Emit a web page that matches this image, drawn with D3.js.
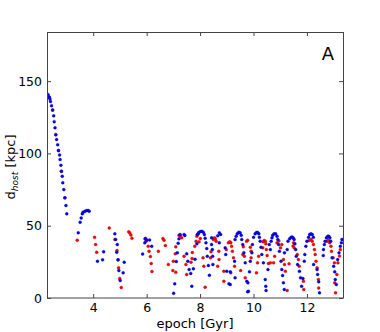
<!DOCTYPE html>
<html>
<head>
<meta charset="utf-8">
<script src="https://cdn.jsdelivr.net/npm/d3@7"></script>
<style>
  body { margin: 0; background: #fff; }
  svg text { font-family: "DejaVu Sans", sans-serif; fill: #000; }
</style>
</head>
<body>
<div id="chart"></div>
<script>
// [epoch (Gyr), distance to host (kpc)]
var redPoints = [
  [2.35,139],[2.48,130],[2.60,113],[2.70,102],[2.81,87.7],[2.94,69.3],
  [3.40,40],[4.05,42],[4.09,37],[4.13,31.6],[4.60,48.5],
  [4.81,40.5],[4.89,32.8],[4.93,26.4],[4.95,20.9],[4.99,13.5],[5.05,7.3],
  [5.33,45.8],[5.37,44.9],[5.41,43.6],[5.45,41.3],
  [5.96,41.3],[5.98,39.3],[6.06,35.8],[6.09,32.4],[6.14,28.7],[6.17,23.9],[6.20,18.3],
  [6.44,32.4],[6.61,41.1],[6.65,40],[6.70,36.3],[6.81,23.2],[6.98,19.1],[7.0,25.5],[7.07,30.6],[7.09,35.4],[7.09,17.8],
  [7.21,43.4],[7.26,43],[7.31,41.6],[7.40,28.9],[7.47,23.2],[7.50,16.3],[7.66,24.8],[7.70,27.3],[7.71,31.5],[7.80,35.8],
  [7.85,39.3],[7.88,42.7],[7.90,43.9],[7.94,44.4],[7.96,38.9],[8.01,41.1],[8.11,27.8],[8.14,22],[8.19,7.5],
  [8.39,27.8],[8.41,32],[8.50,40.5],[8.54,41.6],[8.57,41],[8.60,39.3],[8.66,22],[8.70,32.4],[8.71,26.6],[8.89,18.5],[8.89,11.6],
  [8.98,33.5],[9.06,38.2],[9.11,38.9],[9.15,38.2],[9.18,35.8],[9.21,32.4],[9.25,27.8],[9.29,22],[9.15,17.4],
  [9.52,19],[9.60,30.1],[9.62,35.4],[9.66,28.9],[9.69,14],[9.74,39.3],[9.78,40],[9.88,35.1],[9.91,32.4],[9.91,27.8],
  [10.11,17.4],[10.15,24.3],[10.19,28.9],
  [10.35,34.7],[10.36,38.9],[10.40,39.8],[10.44,39.3],[10.46,37.5],[10.48,33.5],[10.51,29.4],[10.56,23.9],[10.63,24.3],
  [10.75,24.3],[10.79,28.9],[10.88,38.2],[10.95,39.5],[11.01,34.7],[11.06,37],[11.12,26.6],[11.16,23.2],[11.19,18.5],[11.26,5.2],
  [11.33,23.7],[11.48,36],[11.50,38.2],[11.52,34.7],[11.64,30.1],[11.68,26.6],[11.71,22],[11.87,11.6],[11.88,5.9],
  [12.08,39.8],[12.15,40.5],[12.20,39.3],[12.24,37],[12.28,33.5],[12.31,30.1],[12.34,25.5],[12.38,20.9],[12.43,12.8],[12.44,7],
  [12.75,39.3],[12.80,40],[12.85,38.2],[12.90,35.8],[12.92,32.4],[12.98,27.8],[13.03,24.3],[13.04,10.5],[13.07,3.6],
  [13.12,16.3],[13.16,24.3],[13.22,29],[13.25,33.5]
];

var bluePoints = [
  [2.31,140.7],[2.35,139],[2.38,137.7],[2.40,136],[2.44,133],[2.48,130],[2.52,126],[2.54,122],[2.57,117.7],[2.60,113],
  [2.63,109.6],[2.67,106],[2.70,102],[2.74,99],[2.76,95.8],[2.79,91.8],[2.81,87.7],[2.84,84.2],[2.86,79.7],[2.90,75],
  [2.94,69.3],[2.98,64],[3.01,58.2],
  [3.44,45.1],[3.51,52.4],[3.55,55.4],[3.59,58.2],[3.62,59.4],[3.69,60],[3.75,60.5],[3.81,60.5],[3.85,60],
  [4.16,25.5],[4.35,26.4],[4.39,32],
  [4.81,44.4],[4.84,40.5],[4.88,31.7],[4.90,37],[4.93,26.4],[4.96,19],[5.01,12.1],[5.12,17.4],[5.16,24.8],
  [5.85,30.5],[5.93,38.2],[5.94,40.9],[6.0,40.2],[6.11,40.2],[6.19,35.8],
  [7.01,3.3],[7.05,9.8],[7.11,25.2],[7.15,31.3],[7.18,37.9],[7.21,40.9],[7.25,43.9],[7.40,43.9],[7.43,43.2],
  [7.50,30.6],[7.54,25.5],[7.59,19.7],[7.65,17],[7.69,8.2],[7.75,20.2],[7.81,26.8],[7.88,37.5],
  [7.90,43.9],[7.95,45.3],[8.01,46],[8.07,46.2],[8.12,45.5],[8.16,43.9],[8.19,41.4],[8.22,38.2],[8.25,34.2],
  [8.27,28.9],[8.31,22.5],[8.35,15.8],
  [8.43,41.6],[8.43,37],[8.46,33.5],[8.47,28.9],[8.48,23.2],
  [8.66,43],[8.72,45.1],[8.77,44],[8.72,38.2],[8.94,34.7],[8.96,30.1],[9.0,18.5],[9.08,9.8],[9.13,9.3],[9.13,18.1],
  [9.29,25.5],[9.31,14],
  [9.31,40.5],[9.35,42.7],[9.39,44.4],[9.45,45.5],[9.50,45.1],[9.54,43.4],[9.56,40.5],[9.60,37],[9.64,31.3],
  [9.69,24.3],[9.75,11.6],[9.79,10.5],[9.78,4.3],
  [9.81,4.7],[9.85,18.1],[9.88,25.5],[9.94,31.3],[9.96,37],[10.0,42],[10.06,44.4],[10.11,45.3],[10.16,45.3],
  [10.2,44.4],[10.22,42],[10.25,39.3],[10.28,35.1],[10.31,30.1],[10.37,24.3],[10.44,12.8],[10.46,8.2],[10.47,5.2],
  [10.54,19.7],[10.59,37],[10.63,33.5],[10.66,39.3],[10.69,41.6],[10.72,43.4],[10.77,44.4],[10.83,44.4],[10.88,42.7],
  [10.91,40.5],[10.94,37],[10.97,32.4],[11.03,25.5],[11.06,19.7],[11.09,15.6],[11.12,10.5],[11.15,5.9],
  [11.16,31.3],[11.26,33.5],[11.29,39.3],[11.35,40.9],[11.41,42],[11.45,42.2],[11.49,41.5],[11.52,40.5],[11.55,37.5],
  [11.58,33.5],[11.60,28.9],[11.65,23.2],[11.72,18.5],[11.76,14],[11.80,8.2],[11.85,13.5],
  [11.90,25.5],[11.92,30.1],[11.96,35.8],[12.0,39.3],[12.06,42],[12.10,43.9],[12.15,44.4],[12.20,43.9],[12.24,42],
  [12.25,23.2],[12.38,19.7],[12.40,16.3],[12.44,11.2],[12.47,3.6],
  [12.61,29.4],[12.62,33.5],[12.65,37],[12.68,39.3],[12.73,41.6],[12.78,42.7],[12.82,42.7],[12.86,41.6],[12.89,39.3],
  [12.94,27.8],[13.0,22],[13.04,18.1],[13.06,12.8],[13.10,9.3],
  [13.15,26.6],[13.20,31.3],[13.25,35.8],[13.29,38.2],[13.31,40.5]
];

var xTicks = [4, 6, 8, 10, 12];
var yTicks = [0, 50, 100, 150];

var margin = { top: 32, right: 37, bottom: 34, left: 47 },
    width = 380 - margin.left - margin.right,
    height = 332 - margin.top - margin.bottom;

var svg = d3.select("#chart")
    .append("svg")
    .attr("width", 380)
    .attr("height", 332)
    .append("g")
    .attr("transform", "translate(" + margin.left + "," + margin.top + ")");

var x = d3.scaleLinear().domain([2.27, 13.35]).range([0, width]);
var y = d3.scaleLinear().domain([0, 184]).range([height, 0]);

// clip so points stay inside the frame
svg.append("clipPath").attr("id", "clip")
    .append("rect").attr("width", width).attr("height", height);

var dots = svg.append("g").attr("clip-path", "url(#clip)");

dots.selectAll(".red")
    .data(redPoints)
    .enter().append("circle")
    .attr("class", "red")
    .attr("cx", function (d) { return x(d[0]); })
    .attr("cy", function (d) { return y(d[1]); })
    .attr("r", 1.5)
    .style("fill", "#ff0000")
    .style("stroke", "#aa0000")
    .style("stroke-width", 0.3);

dots.selectAll(".blue")
    .data(bluePoints)
    .enter().append("circle")
    .attr("class", "blue")
    .attr("cx", function (d) { return x(d[0]); })
    .attr("cy", function (d) { return y(d[1]); })
    .attr("r", 1.5)
    .style("fill", "#0000ff")
    .style("stroke", "#000088")
    .style("stroke-width", 0.3);

// axes, ticks pointing inwards, mirrored on top and right
function styleAxis(g) {
    g.selectAll(".domain").remove();
    g.selectAll(".tick line").attr("stroke", "#444");
    g.selectAll("text").style("font-size", "12.5px");
}

svg.append("g")
    .attr("transform", "translate(0," + height + ")")
    .call(d3.axisBottom(x).tickValues(xTicks).tickSize(-4).tickPadding(5).tickFormat(d3.format("d")))
    .call(styleAxis);

svg.append("g")
    .call(d3.axisTop(x).tickValues(xTicks).tickSize(-4).tickFormat(""))
    .call(styleAxis);

svg.append("g")
    .call(d3.axisLeft(y).tickValues(yTicks).tickSize(-4).tickPadding(5).tickFormat(d3.format("d")))
    .call(styleAxis);

svg.append("g")
    .attr("transform", "translate(" + width + ",0)")
    .call(d3.axisRight(y).tickValues(yTicks).tickSize(-4).tickFormat(""))
    .call(styleAxis);

svg.append("rect")
    .attr("x", 0.5).attr("y", 0.5)
    .attr("width", width).attr("height", height - 0.5)
    .style("fill", "none")
    .style("stroke", "#444")
    .style("stroke-width", 1);

// labels
svg.append("text")
    .attr("x", width / 2)
    .attr("y", height + 30)
    .attr("text-anchor", "middle")
    .style("font-size", "13px")
    .text("epoch [Gyr]");

var yLabel = svg.append("text")
    .attr("transform", "translate(-32," + (height / 2 + 2) + ")rotate(-90)")
    .attr("text-anchor", "middle")
    .style("font-size", "13px");
yLabel.append("tspan").text("d");
yLabel.append("tspan")
    .attr("dy", 3)
    .style("font-size", "9px")
    .style("font-style", "italic")
    .text("host");
yLabel.append("tspan")
    .attr("dy", -3)
    .text(" [kpc]");

svg.append("text")
    .attr("x", width - 9)
    .attr("y", 28)
    .attr("text-anchor", "end")
    .style("font-size", "18px")
    .text("A");
</script>
</body>
</html>
